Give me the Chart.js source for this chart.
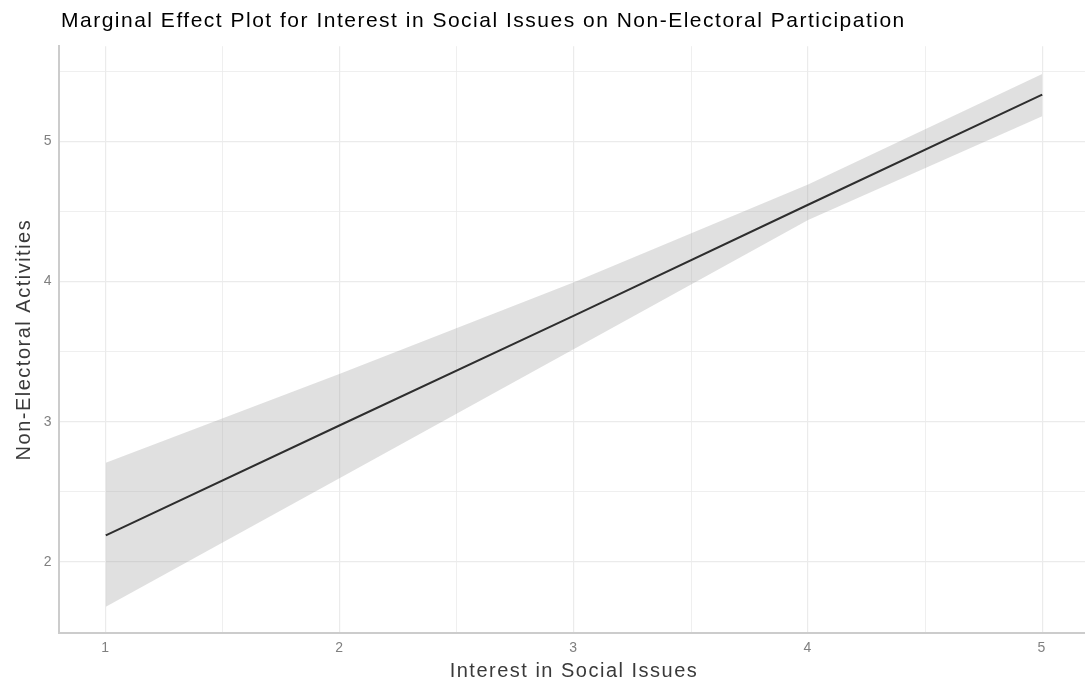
<!DOCTYPE html>
<html>
<head>
<meta charset="utf-8">
<script src="https://cdn.jsdelivr.net/npm/chart.js@4.4.1/dist/chart.umd.min.js"></script>
<style>
  html, body { margin: 0; padding: 0; background: #fff; overflow: hidden; }
  #wrap { width: 1089px; height: 684px; }
</style>
</head>
<body>
<div id="wrap"><canvas id="chart" width="1089" height="684"></canvas></div>
<script>
// values
const xValues = [1, 2, 3, 4, 5];
const fitValues = [2.19, 2.975, 3.757, 4.548, 5.334];
const upperValues = [2.707, 3.342, 3.995, 4.693, 5.481];
const lowerValues = [1.68, 2.598, 3.519, 4.44, 5.18];

const xTicks = [1, 2, 3, 4, 5];
const yTicks = [2, 3, 4, 5];

const chartTitle = 'Marginal Effect Plot for Interest in Social Issues on Non-Electoral Participation';
const xTitle = 'Interest in Social Issues';
const yTitle = 'Non-Electoral Activities';

const toPoints = (ys) => xValues.map((x, i) => ({ x: x, y: ys[i] }));

// major ticks plus the halfway minor ones, all inside the scale range
const withMinor = (major, min, max) => {
  const out = [];
  const step = major[1] - major[0];
  for (let v = major[0] - step; v <= major[major.length - 1] + step; v += step / 2) {
    if (v >= min && v <= max) out.push({ value: v });
  }
  return out;
};

const FONT = "'Liberation Sans', Arial, Helvetica, sans-serif";

const gridWidth = (list) => (ctx) => list.includes(ctx.tick.value) ? 1.2 : 0.8;

// title starts at the panel edge, text a little wider like the original
const tweaks = {
  id: 'tweaks',
  afterLayout(chart) {
    if (chart.titleBlock) {
      chart.titleBlock.left = chart.chartArea.left + 2;
    }
  },
  beforeDraw(chart) {
    chart.ctx.letterSpacing = '1.5px';
  }
};

new Chart(document.getElementById('chart'), {
  type: 'line',
  data: {
    datasets: [
      {
        label: 'lower',
        data: toPoints(lowerValues),
        borderWidth: 0,
        pointRadius: 0,
        fill: false,
        tension: 0
      },
      {
        label: 'upper',
        data: toPoints(upperValues),
        borderWidth: 0,
        pointRadius: 0,
        fill: '-1',
        backgroundColor: 'rgba(153,153,153,0.3)',
        tension: 0
      },
      {
        label: 'fit',
        data: toPoints(fitValues),
        borderColor: '#000000',
        borderWidth: 2,
        pointRadius: 0,
        fill: false,
        tension: 0
      }
    ]
  },
  options: {
    responsive: false,
    animation: false,
    layout: { padding: 0 },
    plugins: {
      legend: { display: false },
      tooltip: { enabled: false },
      title: {
        display: true,
        text: chartTitle,
        align: 'start',
        color: '#000000',
        font: { family: FONT, size: 21, weight: 'normal', lineHeight: 1.2 },
        padding: { top: 9, bottom: 12 }
      }
    },
    scales: {
      x: {
        type: 'linear',
        min: 0.8,
        max: 5.2,
        afterBuildTicks: (scale) => { scale.ticks = withMinor(xTicks, 0.8, 5.2); },
        afterFit: (scale) => { scale.height = 51; },
        ticks: {
          callback: (v) => xTicks.includes(v) ? String(v) : '',
          color: '#808080',
          font: { family: FONT, size: 14 },
          padding: 7,
          maxRotation: 0,
          autoSkip: false
        },
        grid: {
          color: '#ebebeb',
          lineWidth: gridWidth(xTicks),
          drawTicks: false
        },
        border: { display: true, color: '#cccccc', width: 2 },
        title: {
          display: true,
          text: xTitle,
          color: '#3a3a3a',
          font: { family: FONT, size: 20, lineHeight: 1.2 },
          padding: { top: 0, bottom: 1 }
        }
      },
      y: {
        type: 'linear',
        min: 1.493,
        max: 5.679,
        afterBuildTicks: (scale) => { scale.ticks = withMinor(yTicks, 1.493, 5.679); },
        afterFit: (scale) => { scale.width = 59; },
        ticks: {
          callback: (v) => yTicks.includes(v) ? String(v) : '',
          color: '#808080',
          font: { family: FONT, size: 14 },
          padding: 6,
          autoSkip: false
        },
        grid: {
          color: '#ebebeb',
          lineWidth: gridWidth(yTicks),
          drawTicks: false
        },
        border: { display: true, color: '#cccccc', width: 2 },
        title: {
          display: true,
          text: yTitle,
          color: '#3a3a3a',
          font: { family: FONT, size: 20, lineHeight: 1.2 },
          padding: { top: 12, bottom: 0 }
        }
      }
    }
  },
  plugins: [tweaks]
});
</script>
</body>
</html>
